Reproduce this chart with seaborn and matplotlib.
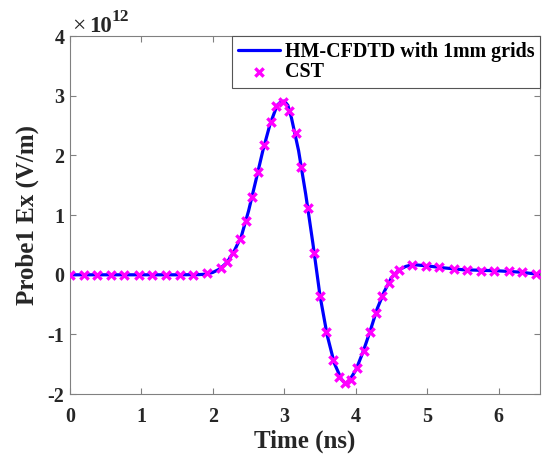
import numpy as np
import pandas as pd
import matplotlib
matplotlib.use("Agg")
import matplotlib.pyplot as plt
import seaborn as sns

# ---- data (field values in units of 1e12 V/m) ----
fdtd_t = [0.0, 0.5, 1.0, 1.5, 1.8, 1.9, 2.0, 2.1, 2.2, 2.3, 2.4, 2.5, 2.6, 2.7, 2.8, 2.9,
          2.95, 3.0, 3.05, 3.1, 3.2, 3.3, 3.4, 3.5, 3.6, 3.7, 3.8, 3.85, 3.9, 4.0, 4.1,
          4.2, 4.3, 4.4, 4.5, 4.6, 4.7, 4.8, 5.0, 5.2, 5.5, 6.0, 6.3, 6.58]
fdtd_v = [0.0, 0.0, 0.0, 0.0, 0.003, 0.01, 0.04, 0.10, 0.21, 0.40, 0.65, 1.07, 1.57, 2.08,
          2.52, 2.84, 2.895, 2.91, 2.84, 2.63, 2.08, 1.35, 0.53, -0.35, -1.01, -1.48, -1.75,
          -1.815, -1.79, -1.60, -1.30, -0.95, -0.57, -0.28, -0.05, 0.08, 0.14, 0.17, 0.15,
          0.12, 0.085, 0.066, 0.045, 0.005]

cst_t = [0.0, 0.19, 0.38, 0.57, 0.76, 0.96, 1.15, 1.34, 1.54, 1.72, 1.92, 2.11, 2.20, 2.28,
         2.38, 2.46, 2.55, 2.63, 2.72, 2.81, 2.89, 2.98, 3.07, 3.16, 3.24, 3.33, 3.42, 3.50,
         3.59, 3.68, 3.77, 3.85, 3.93, 4.02, 4.11, 4.20, 4.28, 4.37, 4.46, 4.54, 4.60, 4.79,
         4.98, 5.17, 5.37, 5.56, 5.75, 5.94, 6.14, 6.33, 6.52]
cst_v = [0.0, 0.0, 0.0, 0.0, 0.0, 0.0, 0.0, 0.0, 0.0, 0.0, 0.025, 0.11, 0.21, 0.365, 0.595,
         0.906, 1.298, 1.727, 2.179, 2.564, 2.827, 2.90, 2.744, 2.37, 1.80, 1.114, 0.365,
         -0.35, -0.958, -1.419, -1.712, -1.817, -1.754, -1.556, -1.271, -0.953, -0.635,
         -0.35, -0.137, 0.017, 0.08, 0.169, 0.152, 0.126, 0.097, 0.08, 0.072, 0.069, 0.059,
         0.042, 0.013]

x_ticks = [0, 1, 2, 3, 4, 5, 6]
y_ticks = [-2, -1, 0, 1, 2, 3, 4]
series_names = ["HM-CFDTD with 1mm grids", "CST"]
exp_base = "10"
exp_power = "12"

# ---- style ----
sns.set_style("ticks")
plt.rcParams['font.family'] = ['Liberation Serif', 'DejaVu Serif']
plt.rcParams['axes.unicode_minus'] = False

W, H = 542, 459
fig = plt.figure(figsize=(W / 100, H / 100), dpi=100)
ax = fig.add_axes([70 / W, 1 - 394.2 / H, (540 - 70) / W, (394.2 - 36) / H])

df_line = pd.DataFrame({"t": fdtd_t, "v": fdtd_v})
df_pts = pd.DataFrame({"t": cst_t, "v": cst_v})

sns.lineplot(data=df_line, x="t", y="v", ax=ax, color=(0, 0, 1), linewidth=2.3,
             sort=False, estimator=None, label=series_names[0], zorder=2)
sns.scatterplot(data=df_pts, x="t", y="v", ax=ax, marker="x", color=(1, 0, 1),
                s=36, linewidth=2.4, label=series_names[1], zorder=3)

ax.set_xlim(0, 6.58)
ax.set_ylim(-2, 4)
ax.set_xticks(x_ticks)
ax.set_yticks(y_ticks)
ax.set_xticklabels([str(v) for v in x_ticks])
ax.set_yticklabels([str(v) for v in y_ticks])

tick_col = '#262626'
for lab in ax.get_xticklabels() + ax.get_yticklabels():
    lab.set_fontweight('bold')
    lab.set_fontsize(14.4)
    lab.set_color(tick_col)

ax.tick_params(axis='both', direction='in', length=4, width=0.8, color='#808080',
               top=True, right=True)
ax.tick_params(axis='x', pad=9)
ax.tick_params(axis='y', pad=4)
for sp in ax.spines.values():
    sp.set_visible(True)
    sp.set_color('#808080')
    sp.set_linewidth(0.8)

ax.set_xlabel("Time (ns)", fontsize=18, fontweight='bold', color=tick_col, labelpad=2)
ax.set_ylabel("Probe1 Ex (V/m)", fontsize=18, fontweight='bold', color=tick_col, labelpad=6)

# exponent label (x10^12) above the top-left corner
fig.text(72 / W, 1 - 32.3 / H, "\u00d7", fontsize=17, color=tick_col,
         va='baseline', ha='left')
fig.text(89 / W, 1 - 32.3 / H, exp_base, fontsize=16.5, fontweight='bold', color=tick_col,
         va='baseline', ha='left')
fig.text(112 / W, 1 - 20.7 / H, exp_power, fontsize=12.5, fontweight='bold', color=tick_col,
         va='baseline', ha='left')

leg = ax.legend(loc='upper right', borderaxespad=0, fancybox=False, framealpha=1,
                edgecolor='#555555', prop={'weight': 'bold', 'size': 14.4},
                handlelength=2.1, handletextpad=0.25, labelspacing=0.02,
                borderpad=0.28, scatterpoints=1)
leg.get_frame().set_linewidth(0.8)
for t in leg.get_texts():
    t.set_color('black')

fig.savefig("out.png", dpi=100, facecolor='white')
